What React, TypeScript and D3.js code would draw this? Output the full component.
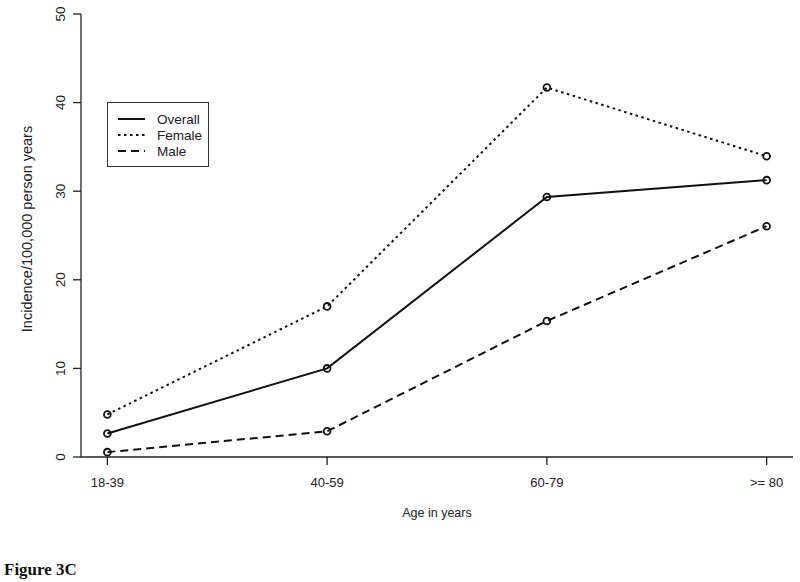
// Figure 3C - incidence by age group, R base-graphics look
import React, { useEffect, useRef } from 'react';
import * as d3 from 'd3';

const ageGroups = ['18-39', '40-59', '60-79', '>= 80'];
const overall = [2.65, 10.0, 29.35, 31.25];
const female = [4.8, 17.0, 41.7, 33.95];
const male = [0.55, 2.9, 15.35, 26.05];
const yTicks = [0, 10, 20, 30, 40, 50];

const seriesNames = ['Overall', 'Female', 'Male'];
const seriesDash = ['none', '2.5 3.5', '8 5'];

const WIDTH = 800;
const HEIGHT = 582;

const App: React.FC = () => {
  const svgRef = useRef<SVGSVGElement>(null);

  useEffect(() => {
    if (!svgRef.current) return;
    const svg = d3.select(svgRef.current);
    svg.selectAll('*').remove();

    const font = '"Liberation Sans", Arial, sans-serif';
    const x = d3.scaleLinear().domain([0.88, 4.12]).range([81, 793]);
    const y = d3.scaleLinear().domain([0, 50]).range([457, 14]);

    // L-shaped box
    svg.append('path')
      .attr('d', `M${x(0.88)},${y(50)}V${y(0)}H${x(4.12)}`)
      .attr('fill', 'none')
      .attr('stroke', '#222')
      .attr('stroke-width', 1.3);

    // y axis ticks + labels (rotated, as R does by default)
    yTicks.forEach(t => {
      svg.append('line')
        .attr('x1', x(0.88)).attr('x2', x(0.88) - 8)
        .attr('y1', y(t)).attr('y2', y(t))
        .attr('stroke', '#222').attr('stroke-width', 1.3);
      svg.append('text')
        .attr('transform', `translate(${65},${y(t)}) rotate(-90)`)
        .attr('text-anchor', 'middle')
        .attr('font-family', font)
        .attr('font-size', 13.5)
        .attr('fill', '#222')
        .text(String(t));
    });

    // x axis ticks + labels
    ageGroups.forEach((lab, i) => {
      const px = x(i + 1);
      svg.append('line')
        .attr('x1', px).attr('x2', px)
        .attr('y1', y(0)).attr('y2', y(0) + 8)
        .attr('stroke', '#222').attr('stroke-width', 1.3);
      svg.append('text')
        .attr('x', px).attr('y', 487)
        .attr('text-anchor', 'middle')
        .attr('font-family', font)
        .attr('font-size', 13)
        .attr('fill', '#222')
        .text(lab);
    });

    // axis titles
    svg.append('text')
      .attr('x', x(2.5)).attr('y', 517)
      .attr('text-anchor', 'middle')
      .attr('font-family', font)
      .attr('font-size', 12.5)
      .attr('fill', '#222')
      .text('Age in years');

    svg.append('text')
      .attr('transform', `translate(32,229) rotate(-90)`)
      .attr('text-anchor', 'middle')
      .attr('font-family', font)
      .attr('font-size', 14.5)
      .attr('fill', '#222')
      .text('Incidence/100,000 person years');

    // series lines + open circle points
    const line = d3.line<number>()
      .x((_, i) => x(i + 1))
      .y(d => y(d));

    [overall, female, male].forEach((vals, s) => {
      svg.append('path')
        .attr('d', line(vals) as string)
        .attr('fill', 'none')
        .attr('stroke', '#111')
        .attr('stroke-width', 2)
        .attr('stroke-dasharray', seriesDash[s]);

      svg.selectAll(`.pt${s}`)
        .data(vals)
        .enter()
        .append('circle')
        .attr('class', `pt${s}`)
        .attr('cx', (_, i) => x(i + 1))
        .attr('cy', d => y(d))
        .attr('r', 3.4)
        .attr('fill', 'none')
        .attr('stroke', '#111')
        .attr('stroke-width', 1.8);
    });

    // legend
    const lg = svg.append('g');
    lg.append('rect')
      .attr('x', 107.5).attr('y', 102.5)
      .attr('width', 101).attr('height', 64)
      .attr('fill', 'none')
      .attr('stroke', '#333')
      .attr('stroke-width', 1);

    seriesNames.forEach((name, i) => {
      const ly = 119 + i * 16;
      lg.append('line')
        .attr('x1', 118).attr('x2', 145)
        .attr('y1', ly).attr('y2', ly)
        .attr('stroke', '#111')
        .attr('stroke-width', 2)
        .attr('stroke-dasharray', seriesDash[i]);
      lg.append('text')
        .attr('x', 157).attr('y', ly + 5)
        .attr('font-family', font)
        .attr('font-size', 13.5)
        .attr('fill', '#222')
        .text(name);
    });

    // figure caption
    svg.append('text')
      .attr('x', 4).attr('y', 575)
      .attr('font-family', '"Liberation Serif", "Times New Roman", serif')
      .attr('font-weight', 'bold')
      .attr('font-size', 17)
      .attr('fill', '#111')
      .text('Figure 3C');
  }, []);

  return (
    <div style={{ position: 'absolute', left: 0, top: 0, width: WIDTH, height: HEIGHT, background: '#fff' }}>
      <svg ref={svgRef} width={WIDTH} height={HEIGHT} style={{ display: 'block' }} />
    </div>
  );
};

export default App;
